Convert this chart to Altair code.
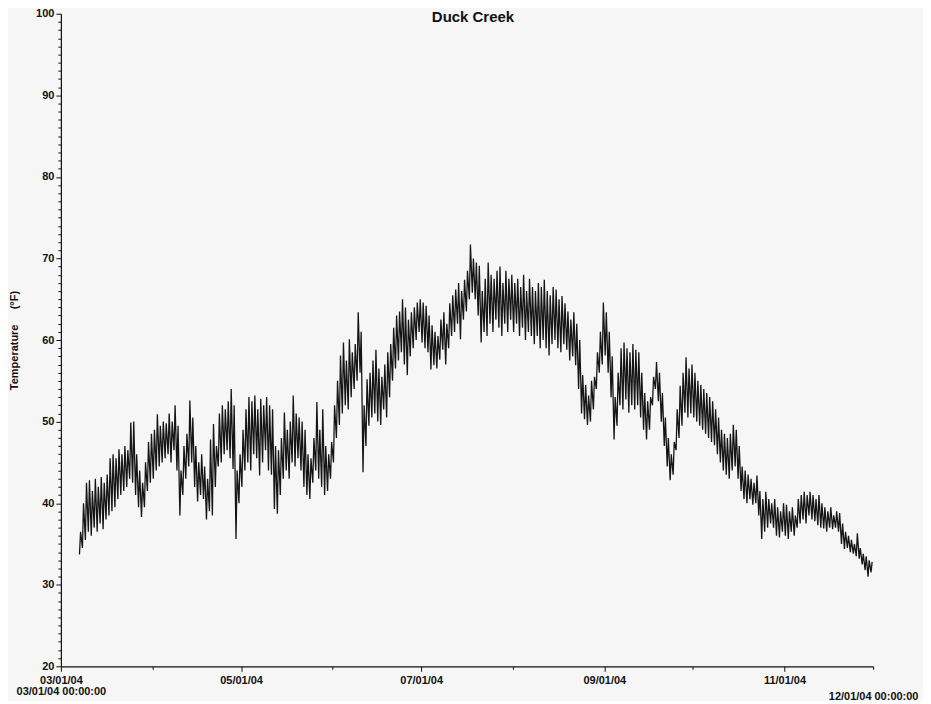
import altair as alt
import pandas as pd
from datetime import datetime, timedelta

title_text = "Duck Creek"
y_title = "Temperature\u00a0\u00a0\u00a0\u00a0\u00a0(°F)"

# Daily low / high water temperature (°F), per month
mar_first = 7
mar_lo = [33.7, 34.5, 35.5, 36.5, 36.0, 37.0, 36.5, 37.5, 36.8, 38.0, 38.5, 39.0, 39.5, 40.5, 41.0, 41.5, 42.0, 43.0, 42.5, 41.0, 39.5, 38.3, 39.5, 41.5, 42.5]
mar_hi = [36.5, 40.0, 42.5, 42.8, 41.5, 43.0, 42.0, 43.2, 42.5, 43.5, 45.5, 46.0, 45.5, 46.6, 46.0, 47.0, 46.5, 49.9, 50.0, 46.0, 44.0, 42.5, 45.0, 47.5, 48.5]

apr_lo = [43.0, 44.0, 44.5, 45.0, 45.5, 46.0, 45.0, 46.5, 44.0, 38.5, 41.0, 43.0, 44.5, 45.0, 42.0, 40.2, 41.0, 40.5, 38.0, 39.0, 38.5, 42.0, 44.5, 45.0, 46.0, 46.5, 45.5, 44.2, 35.6, 40.0]
apr_hi = [49.0, 50.9, 49.5, 50.0, 49.8, 51.0, 50.0, 52.0, 49.5, 44.0, 47.0, 48.5, 52.6, 50.5, 47.0, 45.0, 46.0, 44.5, 43.0, 47.8, 49.7, 47.0, 51.0, 52.0, 51.5, 52.5, 54.0, 52.0, 44.0, 46.0]

may_lo = [42.0, 44.0, 45.0, 44.0, 46.0, 45.5, 43.4, 45.0, 46.5, 44.0, 43.5, 39.3, 38.7, 41.0, 43.0, 44.0, 43.0, 45.0, 44.5, 45.5, 44.0, 42.0, 41.0, 40.5, 42.5, 44.0, 43.0, 42.0, 41.0, 41.5, 43.0]
may_hi = [49.0, 51.5, 53.0, 52.5, 53.2, 51.5, 52.8, 52.0, 53.0, 52.0, 51.5, 47.0, 46.5, 48.0, 51.1, 49.0, 50.0, 53.2, 51.0, 50.5, 50.0, 49.0, 46.0, 45.5, 48.0, 52.4, 49.0, 51.5, 47.0, 46.0, 47.5]

jun_lo = [45.0, 48.0, 49.6, 51.0, 52.0, 51.5, 53.0, 54.0, 55.0, 56.0, 43.8, 47.0, 49.5, 50.5, 51.0, 50.0, 49.6, 51.5, 50.5, 53.0, 55.0, 56.5, 57.5, 58.5, 57.0, 55.7, 58.0, 59.0, 60.0, 61.0]
jun_hi = [52.0, 55.0, 58.1, 59.7, 57.5, 60.1, 58.5, 59.5, 63.4, 61.0, 52.0, 55.2, 56.0, 57.5, 58.8, 56.5, 55.5, 57.0, 58.5, 59.5, 61.5, 63.0, 63.5, 65.0, 64.0, 62.5, 63.4, 64.0, 64.6, 65.0]

jul_lo = [59.7, 59.0, 58.5, 56.4, 56.9, 56.5, 57.6, 58.8, 57.0, 59.0, 60.5, 61.0, 62.0, 60.1, 62.5, 63.5, 65.0, 65.8, 65.0, 63.0, 59.7, 61.0, 60.5, 62.0, 61.0, 62.5, 61.5, 60.5, 62.0, 61.0, 62.5]
jul_hi = [64.6, 64.2, 63.0, 61.8, 61.0, 60.5, 62.5, 63.4, 62.0, 64.5, 65.5, 66.2, 67.0, 66.0, 67.4, 68.5, 71.7, 70.0, 69.5, 69.1, 66.0, 67.5, 69.5, 68.0, 67.5, 68.5, 69.0, 67.0, 68.5, 67.5, 68.0]

aug_lo = [61.0, 62.0, 60.5, 61.5, 60.0, 61.0, 60.5, 59.5, 60.5, 59.0, 60.0, 59.0, 58.1, 59.5, 60.0, 59.0, 58.5, 59.5, 58.8, 57.5, 58.0, 56.9, 54.0, 51.0, 50.3, 49.6, 50.0, 51.5, 54.0, 56.0, 57.0]
aug_hi = [67.0, 67.5, 66.5, 68.0, 66.0, 67.5, 66.5, 66.0, 67.0, 66.5, 67.4, 66.0, 65.5, 66.5, 66.2, 65.0, 65.4, 64.5, 63.5, 62.5, 63.4, 62.0, 60.0, 55.7, 54.5, 53.2, 55.0, 55.5, 58.5, 61.0, 64.6]

sep_lo = [58.1, 56.0, 53.0, 47.8, 49.5, 52.0, 51.5, 52.7, 51.1, 52.0, 51.5, 52.0, 50.5, 49.0, 47.8, 49.0, 52.0, 54.0, 52.5, 50.0, 47.0, 44.5, 42.8, 43.5, 46.5, 48.0, 49.5, 51.1, 50.5, 51.0]
sep_hi = [63.4, 61.0, 58.0, 53.0, 56.0, 59.0, 59.7, 59.0, 58.5, 59.5, 58.8, 58.5, 56.0, 53.5, 52.5, 53.0, 55.5, 57.3, 56.0, 53.5, 50.5, 48.0, 46.0, 47.5, 51.5, 54.4, 56.0, 57.9, 56.5, 57.0]

oct_lo = [50.5, 50.0, 49.5, 49.0, 48.5, 48.0, 47.5, 47.1, 46.0, 45.0, 44.0, 43.5, 43.0, 44.0, 44.5, 43.0, 41.5, 40.5, 40.0, 40.5, 39.8, 40.0, 38.5, 35.6, 36.5, 37.0, 37.5, 37.0, 36.0, 35.8, 36.5]
oct_hi = [56.0, 55.0, 54.5, 54.0, 53.5, 53.0, 52.5, 51.5, 50.5, 49.0, 48.5, 48.0, 48.5, 49.6, 49.0, 47.0, 44.5, 44.0, 43.5, 43.0, 42.5, 43.4, 41.5, 40.5, 41.4, 40.5, 40.0, 40.5, 39.5, 39.0, 40.0]

nov_lo = [36.0, 35.6, 36.5, 36.0, 37.0, 37.5, 38.0, 37.5, 38.5, 38.0, 37.8, 37.3, 37.0, 36.9, 36.5, 37.0, 36.8, 37.0, 36.5, 35.0, 34.4, 34.5, 34.0, 33.8, 33.5, 33.2, 32.5, 31.8, 31.0, 31.5]
nov_hi = [39.8, 39.0, 39.5, 38.5, 40.5, 41.0, 41.4, 41.0, 41.4, 41.0, 40.5, 41.0, 40.0, 39.5, 39.0, 39.5, 38.5, 39.0, 38.8, 37.5, 36.5, 36.0, 35.5, 35.0, 36.3, 34.5, 33.8, 33.5, 33.0, 32.8]

months = [
    (3, mar_first, mar_lo, mar_hi),
    (4, 1, apr_lo, apr_hi),
    (5, 1, may_lo, may_hi),
    (6, 1, jun_lo, jun_hi),
    (7, 1, jul_lo, jul_hi),
    (8, 1, aug_lo, aug_hi),
    (9, 1, sep_lo, sep_hi),
    (10, 1, oct_lo, oct_hi),
    (11, 1, nov_lo, nov_hi),
]

rows = []
for m, first, lo, hi in months:
    for i, (l, h) in enumerate(zip(lo, hi)):
        d = datetime(2004, m, first + i)
        rows.append({"t": (d + timedelta(hours=7)).isoformat(), "temp": l})
        rows.append({"t": (d + timedelta(hours=16)).isoformat(), "temp": h})
df = pd.DataFrame(rows)

x_ticks = [alt.DateTime(year=2004, month=m, date=1) for m in range(3, 13)]
x_domain = [alt.DateTime(year=2004, month=3, date=1), alt.DateTime(year=2004, month=12, date=1)]
y_ticks = list(range(20, 101))

FONT = "Liberation Sans"
INK = "#111111"

x_label_expr = (
    "month(datum.value) === 2 ? [timeFormat(datum.value, '%m/%d/%y'), timeFormat(datum.value, '%m/%d/%y %H:%M:%S')] : "
    "(month(datum.value) === 11 ? timeFormat(datum.value, '%m/%d/%y %H:%M:%S') : "
    "(month(datum.value) % 2 === 0 ? timeFormat(datum.value, '%m/%d/%y') : ''))"
)

chart = (
    alt.Chart(df)
    .mark_line(color="#151515", strokeWidth=1.3)
    .encode(
        x=alt.X(
            "t:T",
            scale=alt.Scale(domain=x_domain, nice=False),
            axis=alt.Axis(
                values=x_ticks,
                labelExpr=x_label_expr,
                title=None,
                tickSize={"condition": {"test": "month(datum.value) % 2 === 0", "value": 5}, "value": 3},
                labelPadding={"condition": {"test": "month(datum.value) === 11", "value": 21}, "value": 3},
                labelOverlap=False,
                labelFlush=False,
                labelBound=False,
                labelLineHeight=11,
                grid=False,
            ),
        ),
        y=alt.Y(
            "temp:Q",
            scale=alt.Scale(domain=[20, 100], nice=False, zero=False),
            axis=alt.Axis(
                values=y_ticks,
                labelExpr="datum.value % 10 === 0 ? datum.label : ''",
                tickSize={"condition": {"test": "datum.value % 10 === 0", "value": 5}, "value": 3},
                labelPadding=2,
                labelOverlap=False,
                title=y_title,
                titleFontSize=11,
                titleColor=INK,
                titleX=-46,
                titleBaseline="middle",
                grid=False,
            ),
        ),
    )
    .properties(
        width=814,
        height=654,
        autosize=alt.AutoSizeParams(type="none"),
        padding={"left": 53, "top": 5, "right": 50, "bottom": 34},
        background="#f6f6f6",
        title=alt.TitleParams(
            title_text, fontSize=15, font=FONT, fontWeight="bold", anchor="middle",
            color=INK, offset=0, dy=17, dx=6,
        ),
    )
    .configure_view(stroke=None)
    .configure_axis(
        domainColor=INK,
        domainWidth=1.2,
        tickColor=INK,
        tickWidth=1,
        labelColor=INK,
        labelFont=FONT,
        labelFontWeight="bold",
        labelFontSize=11,
        titleFont=FONT,
        titleFontWeight="bold",
        titleColor=INK,
    )
)

chart.save("out.html", embed_options={"renderer": "svg", "actions": False})
